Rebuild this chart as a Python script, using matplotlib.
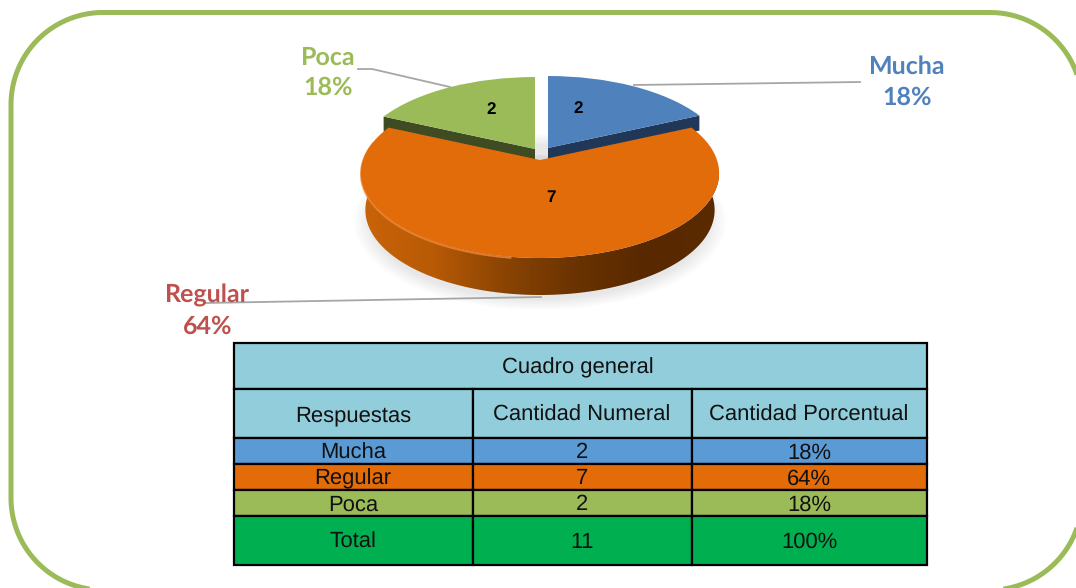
import numpy as np
import matplotlib
matplotlib.use('Agg')
import matplotlib.pyplot as plt
from matplotlib.patches import Polygon, Rectangle, Ellipse
from matplotlib.transforms import Affine2D, Transform
from matplotlib.colors import LinearSegmentedColormap

plt.rcParams['font.family'] = ['Liberation Sans', 'DejaVu Sans']
plt.rcParams['text.hinting'] = 'no_hinting'
plt.rcParams['text.hinting_factor'] = 1

# datos del grafico
categorias = ['Mucha', 'Regular', 'Poca']
cantidades = [2, 7, 2]
porcentajes = ['18%', '64%', '18%']
total_cantidad = 11
total_porcentaje = '100%'
titulo_tabla = 'Cuadro general'
encabezados = ['Respuestas', 'Cantidad Numeral', 'Cantidad Porcentual']

# colores
color_tapa = ['#4F81BD', '#E26B0A', '#9BBB59']
color_lado = ['#203757', None, '#3F4B22']
color_etiqueta = ['#4F81BD', '#C0504D', '#9BBB59']
color_fila = ['#5B9BD5', '#E36C09', '#9BBB59']
color_cabecera = '#92CDDC'
color_total = '#00B050'
color_marco = '#9BBB59'
color_guia = '#A6A6A6'

# posicion de cada porcion en pixeles (vertice de la tapa) y grosor visible
vertices = [(548, 148), (540, 160), (535, 149)]
grosor = [12, 37, 12]
PERSP_K, PERSP_A, PERSP_B = 0.153, 83.0, 177.0


class Perspectiva(Transform):
    """Pasa del disco unidad del pie a la tapa vista en perspectiva"""
    input_dims = output_dims = 2

    def transform_non_affine(self, values):
        u, v = values[:, 0], values[:, 1]
        d = 1 + PERSP_K * v
        return np.column_stack((PERSP_B * u / d, -PERSP_A * v / d))

    def inverted(self):
        raise NotImplementedError


def proyectar(theta, vertice):
    t = np.radians(theta)
    pts = Perspectiva().transform_non_affine(np.column_stack((np.cos(t), np.sin(t))))
    return pts + np.array(vertice)


def marco_redondeado(x0, y0, x1, y1, r):
    t = np.linspace(0, np.pi / 2, 40)
    c, s = np.cos(t), np.sin(t)
    return np.vstack((
        np.column_stack((x0 + r - r * c, y0 + r - r * s)),
        np.column_stack((x1 - r + r * s, y0 + r - r * c)),
        np.column_stack((x1 - r + r * c, y1 - r + r * s)),
        np.column_stack((x0 + r - r * s, y1 - r + r * c)),
    ))


fig = plt.figure(figsize=(10.76, 5.88), dpi=100)
ax = fig.add_axes([0, 0, 1, 1])

# las porciones salen de ax.pie y luego se pasan a perspectiva
wedges, _ = ax.pie(cantidades, startangle=90, counterclock=False)
ax.set_aspect('auto')
ax.set_xlim(0, 1076)
ax.set_ylim(588, 0)
ax.axis('off')
persp = Perspectiva()

# sombra suave bajo el pie
for i in range(8):
    ax.add_patch(Ellipse((540, 222), 372 - i * 5, 176 - i * 3, fc='#000000', alpha=0.012, ec='none', zorder=1))
ax.add_patch(Ellipse((542, 170), 40, 30, fc='#000000', alpha=0.05, ec='none', zorder=1))

# costados rectos de las porciones separadas
for i in (0, 2):
    w = wedges[i]
    ang = w.theta1 if i == 0 else w.theta2
    esquina = proyectar(np.array([ang]), vertices[i])[0]
    vx, vy = vertices[i]
    g = grosor[i]
    ax.add_patch(Polygon([(vx, vy), esquina, (esquina[0], esquina[1] + g + 3), (vx, vy + g)],
                         fc=color_lado[i], ec='none', zorder=2))

# costado curvo de Regular con degradado
w = wedges[1]
th = np.linspace(w.theta1, w.theta2, 300)
borde = proyectar(th, vertices[1])
abajo = borde + np.array([0, grosor[1]])
abajo[:, 0] = 540 + (abajo[:, 0] - 540) * 0.975
lado = Polygon(np.vstack((borde, abajo[::-1])), closed=True, fc='none', ec='none', transform=ax.transData)
ax.add_patch(lado)
cmap = LinearSegmentedColormap.from_list('lado', ['#C96408', '#B85A06', '#8A4403', '#6A3301', '#582800', '#5A2A00'])
grad = ax.imshow(np.linspace(0, 1, 256).reshape(1, -1), cmap=cmap, extent=(361, 719, 300, 170),
                 aspect='auto', zorder=3, interpolation='bilinear')
grad.set_clip_path(lado)
ax.set_xlim(0, 1076)
ax.set_ylim(588, 0)

# tapas
for i, w in enumerate(wedges):
    w.set_facecolor(color_tapa[i])
    w.set_edgecolor('none')
    w.set_transform(persp + Affine2D().translate(*vertices[i]) + ax.transData)
    w.set_zorder(4 if i != 1 else 5)

# brillo del borde de Regular, lado izquierdo y frente
ax.plot(borde[15:140, 0], borde[15:140, 1] + 1, color='#F0883A', lw=1.3, alpha=0.8, zorder=4.5,
        solid_capstyle='round')

# cantidades sobre las porciones
pos_cantidad = [(578, 109), (551, 198), (491, 110)]
for (x, y), c in zip(pos_cantidad, cantidades):
    ax.text(x, y, str(c), ha='center', va='center', fontsize=12, fontweight='bold', color='black', zorder=6)

# lineas guia
ax.plot([634, 860], [85, 82], color=color_guia, lw=1.3, zorder=3)
ax.plot([358, 372, 450], [69, 69, 87], color=color_guia, lw=1.3, zorder=3)
ax.plot([205, 541], [303, 297], color=color_guia, lw=1.3, zorder=3)

# etiquetas
pos_etiqueta = [(907, 82), (207.5, 311), (328.5, 72.5)]
for i, (x, y) in enumerate(pos_etiqueta):
    ax.text(x, y, categorias[i] + '\n' + porcentajes[i], ha='center', va='center', fontsize=18.3,
            fontweight='bold', color=color_etiqueta[i], family=['Lato', 'DejaVu Sans'], linespacing=1.43, zorder=7)

# tabla
xs = [234, 473, 692, 927]
ys = [343, 389, 438, 464, 490, 516, 565]
filas = [encabezados]
for i in range(3):
    filas.append([categorias[i], str(cantidades[i]), porcentajes[i]])
filas.append(['Total', str(total_cantidad), total_porcentaje])
colores = [color_cabecera] + color_fila + [color_total]

ax.add_patch(Rectangle((xs[0], ys[0]), xs[3] - xs[0], ys[1] - ys[0], fc=color_cabecera, ec='black', lw=1.6, zorder=8))
ax.text((xs[0] + xs[3]) / 2 - 3, (ys[0] + ys[1]) / 2 + 7.5, titulo_tabla, ha='center', va='baseline', fontsize=15.5,
        color='#111111', zorder=9)
for f, fila in enumerate(filas):
    for c, txt in enumerate(fila):
        ax.add_patch(Rectangle((xs[c], ys[f + 1]), xs[c + 1] - xs[c], ys[f + 2] - ys[f + 1], fc=colores[f],
                               ec='black', lw=1.6, zorder=8))
        ax.text((xs[c] + xs[c + 1]) / 2 - 0.5, (ys[f + 1] + ys[f + 2]) / 2 + 7.5, txt, ha='center', va='baseline',
                fontsize=15.5, color='#111111', zorder=9)

# marco verde
ax.add_patch(Polygon(marco_redondeado(11, 12.5, 1082, 590, 92), closed=True, fc='none', ec=color_marco, lw=3.6, zorder=10))

fig.savefig('out.png', dpi=100)
